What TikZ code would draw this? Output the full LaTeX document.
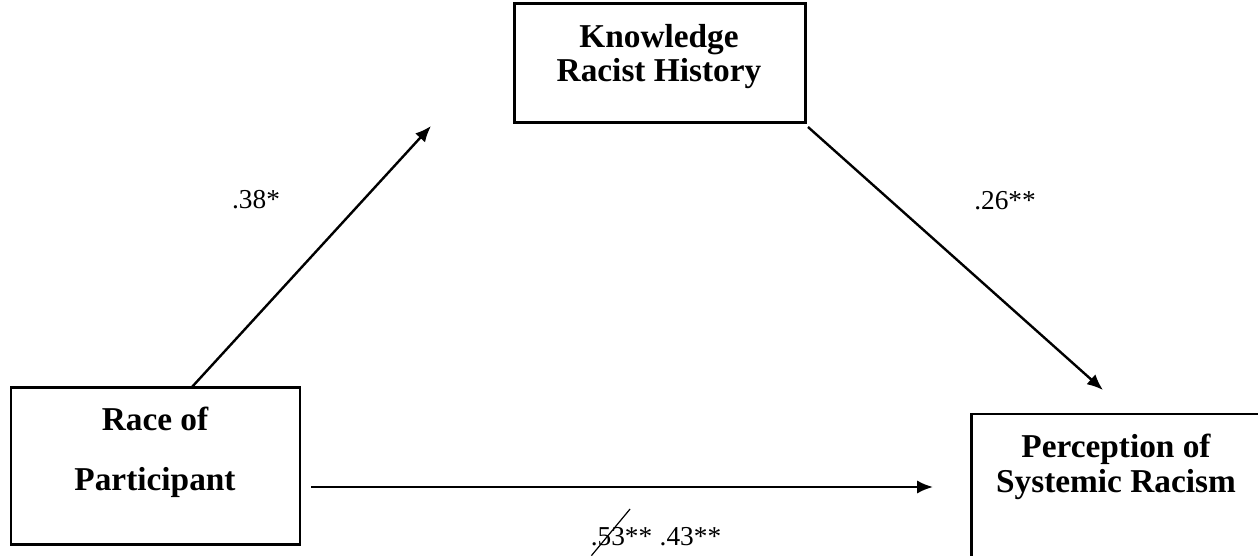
\documentclass[tikz,border=0pt]{standalone}
\usepackage{fontspec}
\setmainfont{Liberation Serif}
\usetikzlibrary{arrows.meta}
\begin{document}
\begin{tikzpicture}[x=0.75pt, y=-0.75pt,
    varbox/.style={draw, line width=1.8pt, inner sep=0pt},
    vartext/.style={anchor=base, align=center, font=\fontsize{25}{26}\selectfont\bfseries},
    coef/.style={anchor=base, font=\fontsize{20.5}{22}\selectfont},
    path/.style={-{Latex[length=12pt, width=10pt]}, line width=1.8pt}]
    \useasboundingbox (0,0) rectangle (1258,556);
    % variables
    \node[varbox, minimum width=218pt, minimum height=89pt] (know) at (660,63) {};
    \node[vartext] (knowtxt) at (659,82) {Knowledge\\Racist History};
    \node[varbox, minimum width=217pt, minimum height=118pt] (race) at (155.5,466) {};
    \node[vartext] (racetxt) at (155,490) {Race of\\[19pt]Participant};
    \node[varbox, minimum width=224pt, minimum height=117pt] (perc) at (1121,492) {};
    \node[vartext] (perctxt) at (1116,492) {Perception of\\Systemic Racism};
    % ends of the paths
    \coordinate (a1) at (192,387);
    \coordinate (a2) at (431,126);
    \coordinate (b1) at (808,127);
    \coordinate (b2) at (1103,390);
    \coordinate (c1) at (311,487);
    \coordinate (c2) at (933,487);
    \draw[path] (a1) -- (a2);
    \draw[path] (b1) -- (b2);
    \draw[path] (c1) -- (c2);
    % coefficients
    \node[coef] (ka) at (256,209) {.38*};
    \node[coef] (pk) at (1005,210) {.26**};
    \node[coef, anchor=base east] (old) at (657,545) {.53**};
    \node[coef, anchor=base west] (new) at (655,545) {.43**};
    \draw[line width=0.9pt] ([xshift=4pt,yshift=-8pt]old.base west) -- ([xshift=33pt,yshift=27pt]old.base west);
\end{tikzpicture}
\end{document}
